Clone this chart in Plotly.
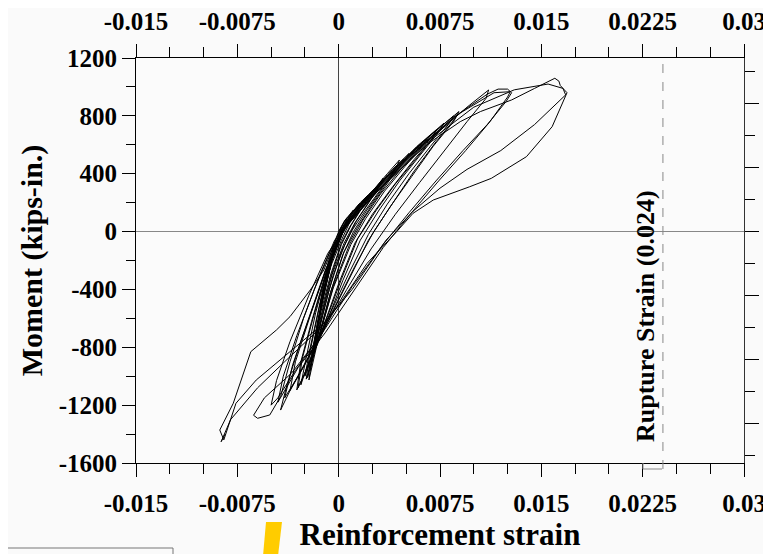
import plotly.graph_objects as go

# ---- data: hysteresis trace (reinforcement strain, moment kips-in.) ----
strain = [
    0.0,
    0.0003, 0.0006, 0.0005, 0.0001, -0.0003, -0.0005, -0.0003, 0.0,
    0.0004, 0.0008, 0.0011, 0.0009, 0.0004, 0.0, -0.0006, -0.0010, -0.0008, -0.0004, 0.0,
    0.0005, 0.0012, 0.0015, 0.0014, 0.0008, 0.0002, -0.0005, -0.0012, -0.0014, -0.0011, -0.0005, 0.0001,
    0.0008, 0.0016, 0.0022, 0.0026, 0.0024, 0.0016, 0.0008, 0.0002, -0.0006, -0.0013, -0.0017, -0.0015, -0.0010, -0.0004, 0.0002,
    0.0009, 0.0018, 0.0025, 0.0028, 0.0026, 0.0017, 0.0009, 0.0002, -0.0006, -0.0013, -0.0018, -0.0016, -0.0010, -0.0004, 0.0002,
    0.0010, 0.0020, 0.0028, 0.0033, 0.0031, 0.0022, 0.0012, 0.0004, -0.0005, -0.0012, -0.0019, -0.0016, -0.0011, -0.0004, 0.0003,
    0.0011, 0.0021, 0.0030, 0.0036, 0.0033, 0.0024, 0.0013, 0.0005, -0.0004, -0.0012, -0.0020, -0.0017, -0.0011, -0.0004, 0.0003,
    0.0012, 0.0025, 0.0036, 0.0045, 0.0042, 0.0032, 0.0020, 0.0010, 0.0002, -0.0007, -0.0015, -0.0021, -0.0018, -0.0012, -0.0005, 0.0004,
    0.0014, 0.0028, 0.0040, 0.0048, 0.0045, 0.0034, 0.0021, 0.0011, 0.0003, -0.0006, -0.0016, -0.0022, -0.0019, -0.0013, -0.0005, 0.0005,
    0.0013, 0.0027, 0.0040, 0.0052, 0.0049, 0.0038, 0.0025, 0.0014, 0.0004, -0.0006, -0.0017, -0.0023, -0.0020, -0.0013, -0.0005, 0.0005,
    0.0016, 0.0032, 0.0048, 0.0060, 0.0057, 0.0045, 0.0031, 0.0018, 0.0008, -0.0004, -0.0016, -0.0025, -0.0021, -0.0014, -0.0006, 0.0005,
    0.0017, 0.0034, 0.0050, 0.0065, 0.0062, 0.0049, 0.0034, 0.0020, 0.0009, -0.0004, -0.0017, -0.0024, -0.0021, -0.0014, -0.0006, 0.0005,
    0.0018, 0.0035, 0.0055, 0.0072, 0.0069, 0.0056, 0.0040, 0.0025, 0.0012, 0.0, -0.0013, -0.0025, -0.0031, -0.0028, -0.0020, -0.0010, 0.0003,
    0.0015, 0.0035, 0.0056, 0.0074, 0.0070, 0.0057, 0.0042, 0.0028, 0.0014, 0.0002, -0.0012, -0.0024, -0.0028, -0.0024, -0.0017, -0.0008, 0.0004,
    0.0018, 0.0037, 0.0058, 0.0078, 0.0075, 0.0061, 0.0045, 0.0030, 0.0016, 0.0003, -0.0012, -0.0026, -0.0030, -0.0027, -0.0019, -0.0009, 0.0004,
    0.0018, 0.0040, 0.0065, 0.0089, 0.0086, 0.0072, 0.0056, 0.0040, 0.0026, 0.0012, -0.0004, -0.0022, -0.0035, -0.0043, -0.0038, -0.0028, -0.0016, -0.0005, 0.0006,
    0.0019, 0.0042, 0.0066, 0.0085, 0.0082, 0.0068, 0.0052, 0.0036, 0.0022, 0.0008, -0.0008, -0.0025, -0.0036, -0.0032, -0.0021, -0.0009, 0.0005,
    0.0020, 0.0045, 0.0068, 0.0088, 0.0085, 0.0070, 0.0054, 0.0038, 0.0022, 0.0006, -0.0012, -0.0030, -0.0040, -0.0034, -0.0022, -0.0010, 0.0004,
    0.0020, 0.0048, 0.0075, 0.0095, 0.0111, 0.0109, 0.0095, 0.0078, 0.0060, 0.0042, 0.0024, 0.0006, -0.0015, -0.0035, -0.0055, -0.0063, -0.0060, -0.0051, -0.0043, -0.0036, -0.0026, -0.0014, -0.0003, 0.0008,
    0.0025, 0.0055, 0.0085, 0.0110, 0.0118, 0.0125, 0.0128, 0.0124, 0.0110, 0.0092, 0.0072, 0.0052, 0.0032, 0.0010, -0.0012, -0.0032, -0.0045, -0.0050, -0.0046, -0.0036, -0.0022, -0.0008, 0.0006,
    0.0025, 0.0058, 0.0090, 0.0115, 0.0127, 0.0125, 0.0112, 0.0094, 0.0074, 0.0053, 0.0033, 0.0012, -0.0010, -0.0030, -0.0045, -0.0041, -0.0031, -0.0018, -0.0005, 0.0008,
    0.0030, 0.0065, 0.0090, 0.0105, 0.0128, 0.0145, 0.0160, 0.0163, 0.0164, 0.0169, 0.0158, 0.0139, 0.0113, 0.0097, 0.0070, 0.0055, 0.0043, 0.0021, 0.0001, -0.0011, -0.0026, -0.0043, -0.0061, -0.0076, -0.0085, -0.0088, -0.0078, -0.0065, -0.0046, -0.0036, -0.0021, -0.0011, -0.0005, 0.0003,
    0.0030, 0.0065, 0.0100, 0.0130, 0.0155, 0.0166, 0.0168, 0.0145, 0.0120, 0.0095, 0.0075, 0.0055, 0.0035, 0.0010, -0.0015, -0.0040, -0.0060, -0.0080, -0.0087, -0.0084,
]
moment = [
    0,
    50, 95, 60, -20, -90, -140, -70, 0,
    70, 120, 150, 110, 20, -60, -200, -330, -220, -100, -10,
    80, 155, 190, 160, 60, -60, -220, -420, -520, -360, -150, 0,
    110, 200, 255, 290, 255, 150, 30, -80, -300, -550, -750, -600, -360, -140, 10,
    115, 210, 275, 300, 270, 160, 40, -90, -320, -580, -800, -640, -380, -150, 15,
    130, 230, 310, 370, 330, 200, 60, -80, -300, -560, -870, -680, -420, -160, 20,
    140, 240, 330, 390, 350, 220, 70, -80, -300, -580, -900, -700, -430, -160, 20,
    150, 280, 400, 495, 430, 300, 150, 10, -140, -400, -700, -960, -760, -480, -190, 30,
    160, 300, 430, 500, 450, 320, 150, 0, -160, -420, -780, -1026, -820, -520, -200, 40,
    155, 290, 430, 540, 490, 360, 190, 30, -140, -420, -800, -1010, -840, -520, -200, 40,
    180, 340, 490, 600, 545, 420, 260, 80, -90, -380, -780, -1000, -800, -500, -200, 40,
    190, 360, 510, 640, 590, 450, 280, 90, -90, -390, -800, -1020, -820, -510, -210, 40,
    200, 370, 560, 700, 640, 500, 310, 120, -80, -360, -700, -980, -1095, -900, -620, -300, 0,
    170, 370, 560, 700, 650, 500, 330, 150, -50, -330, -680, -950, -1060, -870, -560, -250, 20,
    200, 390, 590, 750, 700, 540, 350, 150, -60, -340, -700, -1000, -1080, -880, -600, -280, 20,
    200, 420, 640, 830, 780, 620, 420, 200, 0, -240, -540, -860, -1080, -1234, -1050, -760, -440, -150, 40,
    205, 440, 650, 800, 750, 590, 400, 190, -20, -280, -600, -920, -1100, -900, -580, -250, 30,
    210, 460, 650, 810, 760, 590, 380, 170, -60, -360, -700, -1000, -1150, -920, -600, -270, 20,
    210, 480, 700, 860, 979, 920, 760, 560, 340, 120, -120, -400, -740, -980, -1150, -1270, -1291, -1268, -1141, -900, -600, -300, -60, 60,
    250, 540, 790, 950, 985, 985, 960, 900, 740, 560, 350, 130, -100, -380, -700, -960, -1150, -1200, -1030, -760, -440, -150, 40,
    250, 560, 820, 960, 967, 930, 760, 560, 350, 120, -110, -400, -700, -940, -1180, -1000, -720, -400, -110, 60,
    290, 600, 760, 830, 910, 990, 1060, 1040, 1010, 960, 725, 518, 368, 310, 218, 126, 0, -220, -496, -634, -750, -888, -1026, -1187, -1440, -1372, -1187, -830, -680, -588, -404, -266, -127, 20,
    290, 610, 860, 980, 1020, 990, 945, 740, 560, 430, 300, 140, -60, -400, -680, -900, -1080, -1300, -1453, -1400,
]

x_tick_vals = [-0.015, -0.0075, 0, 0.0075, 0.015, 0.0225, 0.03]
x_tick_text = ["-0.015", "-0.0075", "0", "0.0075", "0.015", "0.0225", "0.03"]
x_minor_vals = [-0.0125, -0.01, -0.005, -0.0025, 0.0025, 0.005, 0.01, 0.0125,
                0.0175, 0.02, 0.025, 0.0275]
y_tick_vals = [-1600, -1200, -800, -400, 0, 400, 800, 1200]
y_tick_text = ["-1600", "-1200", "-800", "-400", "0", "400", "800", "1200"]
y_minor_vals = [-1400, -1000, -600, -200, 200, 600, 1000]
# right axis in kN-m (unlabelled)
y2_tick_vals = [-150, -100, -50, 0, 50, 100]
y2_minor_vals = [-175, -125, -75, -25, 25, 75, 125]
KIPIN_TO_KNM = 0.112985
rupture_strain = 0.024

X_RANGE = [-0.015, 0.03]
Y_RANGE = [-1600, 1200]

FONT = "Liberation Serif"
tickfont = dict(family=FONT, size=25, color="black", weight="bold")

fig = go.Figure()
fig.add_trace(go.Scatter(x=strain, y=moment, mode="lines",
                         line=dict(color="black", width=1),
                         hoverinfo="skip", showlegend=False))
fig.add_trace(go.Scatter(x=[None], y=[None], xaxis="x2", yaxis="y2",
                         mode="lines", showlegend=False, hoverinfo="skip"))

# page has an 8px body margin; plot area lands at x 136..744, y 58..463
W, H = 763, 546
ML, MR, MT, MB = 128, 27, 50, 91
PX0, PX1, PY0, PY1 = 136, 744, 58, 463


def px(x):
    return (x - PX0) / (PX1 - PX0)


def py(y):
    return (PY1 - y) / (PY1 - PY0)


common_x = dict(range=X_RANGE, tickmode="array", tickvals=x_tick_vals, ticktext=x_tick_text,
                ticks="outside", ticklen=13, tickwidth=1, tickcolor="black",
                showline=True, linecolor="black", linewidth=1, showgrid=False,
                tickfont=tickfont, automargin=False,
                minor=dict(tickmode="array", tickvals=x_minor_vals, ticks="outside",
                           ticklen=10, tickwidth=1, tickcolor="black", showgrid=False))

fig.update_layout(
    width=W, height=H, autosize=False,
    margin=dict(l=ML, r=MR, t=MT, b=MB, pad=0),
    paper_bgcolor="#fafafa", plot_bgcolor="#fbfbfb",
    xaxis=dict(**common_x, zeroline=True, zerolinecolor="#444", zerolinewidth=1,
               ticklabelstandoff=5,
               title=dict(text="Reinforcement strain", standoff=3,
                          font=dict(family=FONT, size=31, color="black", weight="bold"))),
    xaxis2=dict(**common_x, overlaying="x", side="top", anchor="y", zeroline=False,
                ticklabelstandoff=4),
    yaxis=dict(range=Y_RANGE, tickmode="array", tickvals=y_tick_vals, ticktext=y_tick_text,
               ticks="outside", ticklen=13, tickwidth=1, tickcolor="black",
               showline=True, linecolor="black", linewidth=1, showgrid=False,
               zeroline=True, zerolinecolor="#888", zerolinewidth=1,
               tickfont=tickfont, automargin=False, ticklabelstandoff=0,
               minor=dict(tickmode="array", tickvals=y_minor_vals, ticks="outside",
                          ticklen=9, tickwidth=1, tickcolor="black", showgrid=False),
               title=dict(text="Moment (kips-in.)", standoff=7,
                          font=dict(family=FONT, size=30, color="black", weight="bold"))),
    yaxis2=dict(range=[Y_RANGE[0] * KIPIN_TO_KNM, Y_RANGE[1] * KIPIN_TO_KNM],
                overlaying="y", side="right", anchor="x",
                tickmode="array", tickvals=y2_tick_vals, showticklabels=False,
                ticks="outside", ticklen=14, tickwidth=1, tickcolor="black",
                showline=True, linecolor="#333", linewidth=1, showgrid=False,
                zeroline=False, automargin=False,
                minor=dict(tickmode="array", tickvals=y2_minor_vals, ticks="outside",
                           ticklen=10, tickwidth=1, tickcolor="black", showgrid=False)),
)

# rupture strain dashed line with small bracket at its foot
fig.add_shape(type="line", xref="x", yref="paper", x0=rupture_strain, x1=rupture_strain,
              y0=py(469), y1=1, line=dict(color="#888", width=1, dash="dash"))
fig.add_shape(type="path", xref="paper", yref="paper",
              path=f"M {px(662)},{py(469)} L {px(643)},{py(469)} L {px(643)},{py(463)}",
              line=dict(color="#888", width=1))
fig.add_annotation(x=0.02267, y=-584, xref="x", yref="y", text="Rupture Strain (0.024)",
                   textangle=-90, showarrow=False, xanchor="center", yanchor="middle",
                   font=dict(family=FONT, size=26, color="black", weight="bold"))

# page decorations visible in the screenshot
fig.add_shape(type="path", xref="paper", yref="paper",
              path=f"M {px(266)},{py(522)} L {px(282)},{py(522)} L {px(278)},{py(556)} L {px(263)},{py(556)} Z",
              fillcolor="#ffcc00", line=dict(width=0))
fig.add_shape(type="path", xref="paper", yref="paper",
              path=f"M {px(-2)},{py(548)} L {px(173)},{py(548)} L {px(173)},{py(556)}",
              line=dict(color="#777", width=1))

fig.write_html("out.html")
